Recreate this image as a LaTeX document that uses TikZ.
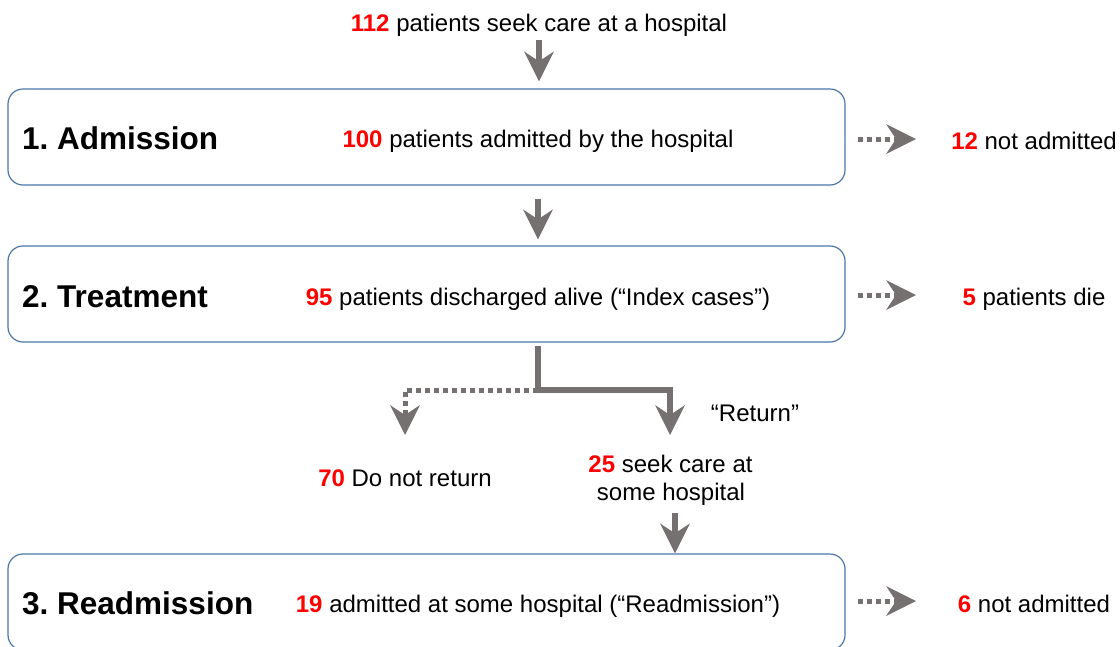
\documentclass[tikz,border=0pt]{standalone}
\usepackage{fontspec}
\setmainfont{Liberation Sans}
\usetikzlibrary{arrows.meta}
\definecolor{arrgray}{HTML}{767171}
\definecolor{boxblue}{HTML}{4A77A8}
\definecolor{numred}{HTML}{FF0000}
\newcommand\rednum[1]{{\bfseries\color{numred}#1}}
\frenchspacing
\begin{document}
\begin{tikzpicture}[x=1pt,y=-1pt,
  txt/.style={font=\fontsize{24}{28.8}\selectfont, inner sep=0pt, anchor=base},
  ttl/.style={font=\fontsize{31.5}{36}\selectfont\bfseries, inner sep=0pt, anchor=base west},
  box/.style={draw=boxblue, line width=1.2pt, rounded corners=15pt, minimum width=837pt, minimum height=96pt, inner sep=0pt},
  arr/.style={draw=arrgray, line width=6pt, -{Stealth[length=30pt,width=30pt,inset=10pt,line width=0pt]}},
  darr/.style={arr, line width=5pt, dash pattern=on 5pt off 4pt},
]
\useasboundingbox (0,0) rectangle (1120,646);
\clip (0,0) rectangle (1120,646);

% boxes
\node[box] (b1) at (426.5,137) {};
\node[box] (b2) at (426.5,294) {};
\node[box] (b3) at (426.5,602) {};

% texts
\node[txt] (top) at (539,31) {\rednum{112} patients seek care at a hospital};

\node[ttl] (t1) at (22,149) {1. Admission};
\node[txt] (m1) at (538,147) {\rednum{100} patients admitted by the hospital};
\node[txt] (r1) at (1034,149) {\rednum{12} not admitted};

\node[ttl] (t2) at (22,307) {2. Treatment};
\node[txt] (m2) at (538,305) {\rednum{95} patients discharged alive (“Index cases”)};
\node[txt] (r2) at (1034,305) {\rednum{5} patients die};

\node[ttl] (t3) at (22,614) {3. Readmission};
\node[txt] (m3) at (538,612) {\rednum{19} admitted at some hospital (“Readmission”)};
\node[txt] (r3) at (1034,612) {\rednum{6} not admitted};

\node[txt] (n70) at (405,486) {\rednum{70} Do not return};
\node[txt] (ret) at (755,421) {“Return”};
\node[txt] (n25a) at (670.5,472) {\rednum{25} seek care at};
\node[txt] (n25b) at (671,500) {some hospital};

% coordinates
\coordinate (j) at (538,390);
\coordinate (lt) at (405,435);
\coordinate (rt) at (670,435);
\coordinate (e1) at (916,139);
\coordinate (e2) at (916,295);
\coordinate (e3) at (916,601);

% vertical arrows
\draw[arr, shorten <=4pt, shorten >=7pt] (top.south) -- (top.south |- b1.north);
\draw[arr, shorten <=13pt, shorten >=6pt] (b1.south -| j) -- (b2.north -| j);
\draw[arr, shorten <=8pt] ([xshift=4pt]n25b.south) -- ([xshift=4pt]n25b.south |- b3.north);

% branch
\draw[darr] (j) -| (lt);
\draw[arr, shorten <=3pt] (b2.south -| j) -- (j) -| (rt);

% side arrows
\draw[darr, shorten <=12pt] (b1.east |- e1) -- (e1);
\draw[darr, shorten <=12pt] (b2.east |- e2) -- (e2);
\draw[darr, shorten <=12pt] (b3.east |- e3) -- (e3);
\end{tikzpicture}
\end{document}
